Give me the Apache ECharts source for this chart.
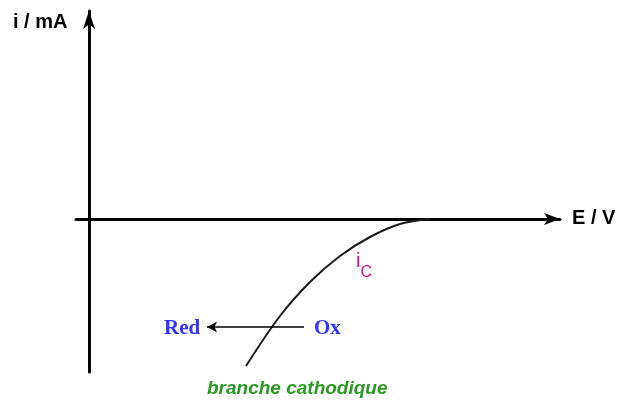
<!DOCTYPE html>
<html>
<head>
<meta charset="utf-8">
<style>
  html, body { margin: 0; padding: 0; background: #ffffff; }
  #chart { width: 624px; height: 401px; }
</style>
<script src="https://cdn.jsdelivr.net/npm/echarts@6/dist/echarts.min.js"></script>
</head>
<body>
<div id="chart"></div>
<script>
// Cathodic branch of the current-potential curve (arbitrary units)
const potentialE = [3.41, 3.11, 2.81, 2.51, 2.21, 1.91, 1.57];
const currentI   = [0.00, -0.05, -0.18, -0.37, -0.63, -0.97, -1.47];

// Reduction arrow Ox -> Red, drawn at a fixed current level
const arrowFromE = 2.15;
const arrowToE = 1.18;
const arrowI = -1.08;

// Axis extents
const eRange = [-0.13, 4.71];
const iRange = [-1.53, 2.08];

const curve = potentialE.map((e, k) => [e, currentI[k]]);

const chart = echarts.init(document.getElementById('chart'), null, { renderer: 'canvas' });

chart.setOption({
  animation: false,
  backgroundColor: '#ffffff',
  grid: { left: 76, right: 64, top: 11, bottom: 29, containLabel: false },
  xAxis: {
    type: 'value',
    min: eRange[0],
    max: eRange[1],
    axisLine: {
      onZero: true,
      symbol: ['none', 'arrow'],
      symbolSize: [9, 16],
      lineStyle: { color: '#000000', width: 3 }
    },
    axisTick: { show: false },
    axisLabel: { show: false },
    splitLine: { show: false }
  },
  yAxis: {
    type: 'value',
    min: iRange[0],
    max: iRange[1],
    axisLine: {
      onZero: true,
      symbol: ['none', 'arrow'],
      symbolSize: [9, 18],
      lineStyle: { color: '#000000', width: 3 }
    },
    axisTick: { show: false },
    axisLabel: { show: false },
    splitLine: { show: false }
  },
  series: [
    {
      name: 'i_C',
      type: 'line',
      data: curve,
      smooth: 0.35,
      showSymbol: false,
      lineStyle: { color: '#1a1a1a', width: 2 },
      z: 3
    },
    {
      name: 'reduction',
      type: 'line',
      data: [],
      markLine: {
        silent: true,
        symbol: ['arrow', 'none'],
        symbolSize: [8, 10],
        label: { show: false },
        lineStyle: { color: '#000000', width: 1.5, type: 'solid' },
        data: [[
          { coord: [arrowToE, arrowI] },
          { coord: [arrowFromE, arrowI] }
        ]]
      }
    }
  ],
  graphic: [
    {
      type: 'text', left: 13, top: 12,
      style: { text: 'i / mA', font: 'bold 20px "Liberation Sans", Arial, sans-serif', fill: '#000000' }
    },
    {
      type: 'text', left: 572, top: 208,
      style: { text: 'E / V', font: 'bold 20px "Liberation Sans", Arial, sans-serif', fill: '#000000' }
    },
    {
      type: 'text', left: 356, top: 251,
      style: {
        text: '{i|i}{c|C}',
        rich: {
          i: { fontSize: 20, fontFamily: '"Liberation Sans", Arial, sans-serif', fill: '#d4148c', color: '#d4148c', verticalAlign: 'top' },
          c: { fontSize: 16, fontFamily: '"Liberation Sans", Arial, sans-serif', fill: '#d4148c', color: '#d4148c', padding: [14, 0, 0, 0] }
        }
      }
    },
    {
      type: 'text', left: 164, top: 318,
      style: { text: 'Red', font: 'bold 21px "Liberation Serif", "Times New Roman", serif', fill: '#3333ff' }
    },
    {
      type: 'text', left: 314, top: 318,
      style: { text: 'Ox', font: 'bold 21px "Liberation Serif", "Times New Roman", serif', fill: '#3333ff' }
    },
    {
      type: 'text', left: 207, top: 379,
      style: { text: 'branche cathodique', font: 'italic bold 19px "Liberation Sans", Arial, sans-serif', fill: '#2b9a22' }
    }
  ]
});
</script>
</body>
</html>
